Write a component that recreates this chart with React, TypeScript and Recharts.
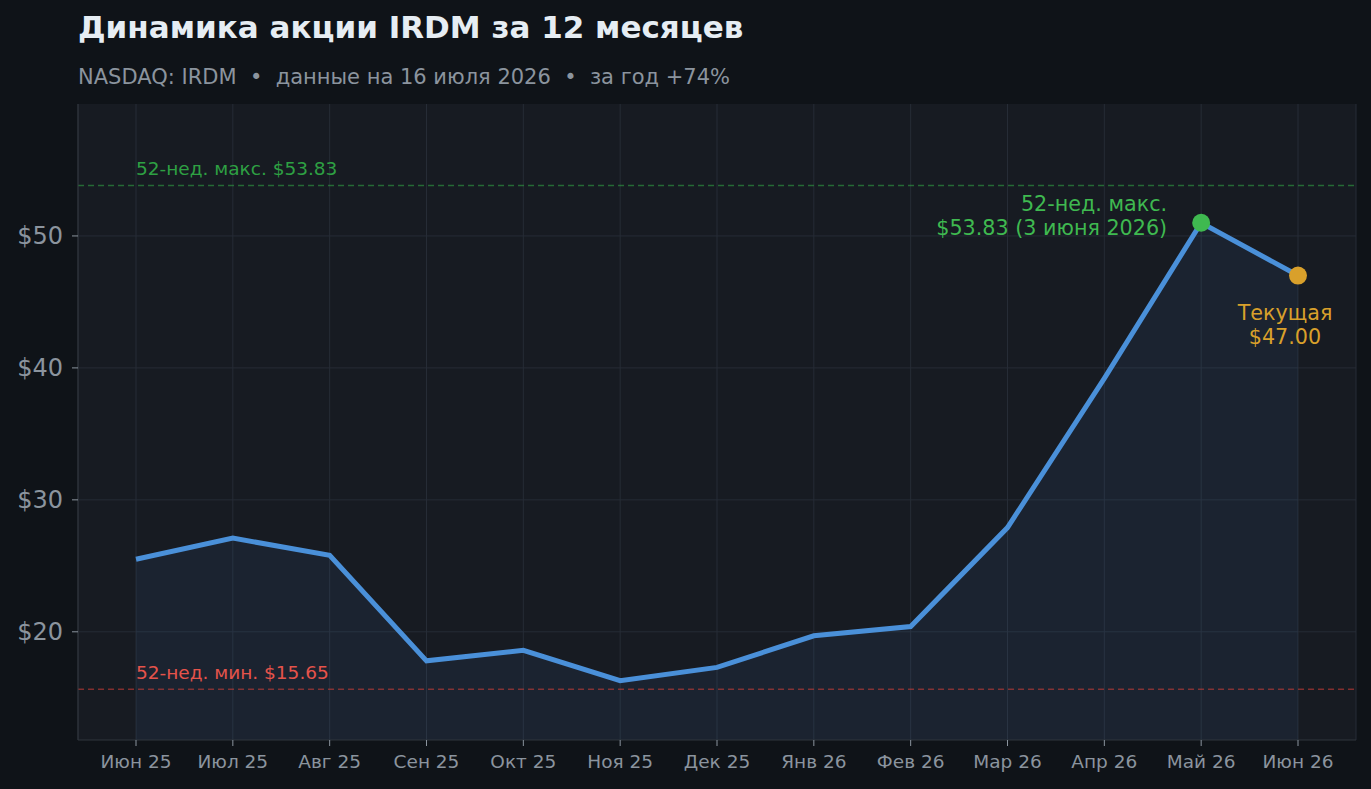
import { ComposedChart, Area, XAxis, YAxis, CartesianGrid, ReferenceLine } from 'recharts';

const months = ['Июн 25', 'Июл 25', 'Авг 25', 'Сен 25', 'Окт 25', 'Ноя 25', 'Дек 25', 'Янв 26', 'Фев 26', 'Мар 26', 'Апр 26', 'Май 26', 'Июн 26'];
const prices = [25.5, 27.1, 25.8, 17.8, 18.6, 16.3, 17.3, 19.7, 20.4, 27.9, 39.2, 51.0, 47.0];
const yTicks = [20, 30, 40, 50];
const high52 = 53.83;
const low52 = 15.65;
const peakIndex = 11;
const lastIndex = 12;

const data = months.map((m, i) => ({ month: m, price: prices[i] }));

const FONT = '"DejaVu Sans", sans-serif';
const GREEN = '#3fb950';
const ORANGE = '#d9a02b';
const BLUE = '#4a90d9';

const renderDot = (props: any) => {
    const { cx, cy, index } = props;
    if (index === peakIndex) {
        return (
            <g key={`dot-${index}`}>
                <circle cx={cx} cy={cy} r={9} fill={GREEN} />
                <text x={cx - 34} y={cy - 12} textAnchor="end" fill={GREEN} fontSize={20.7} fontFamily={FONT}>52-нед. макс.</text>
                <text x={cx - 34} y={cy + 12} textAnchor="end" fill={GREEN} fontSize={20.7} fontFamily={FONT}>$53.83 (3 июня 2026)</text>
            </g>
        );
    }
    if (index === lastIndex) {
        return (
            <g key={`dot-${index}`}>
                <circle cx={cx} cy={cy} r={9} fill={ORANGE} />
                <text x={cx - 13} y={cy + 44} textAnchor="middle" fill={ORANGE} fontSize={20.7} fontFamily={FONT}>Текущая</text>
                <text x={cx - 13} y={cy + 68} textAnchor="middle" fill={ORANGE} fontSize={20.7} fontFamily={FONT}>$47.00</text>
            </g>
        );
    }
    return <g key={`dot-${index}`} />;
};

const lineLabel = (text: string, color: string) => (props: any) => {
    const { viewBox } = props;
    return (
        <text x={viewBox.x + 58} y={viewBox.y - 10} fill={color} fontSize={18.5} fontFamily={FONT}>{text}</text>
    );
};

const App = () => {
    return (
        <div style={{ position: 'absolute', left: 0, top: 0, width: 1371, height: 789, background: '#0f1318', fontFamily: FONT }}>
            <div style={{ position: 'absolute', left: 78, top: 12, fontSize: 31, lineHeight: '31px', fontWeight: 'bold', color: '#e6edf3', whiteSpace: 'nowrap' }}>
                Динамика акции IRDM за 12 месяцев
            </div>
            <div style={{ position: 'absolute', left: 78, top: 67, fontSize: 21, lineHeight: '20px', color: '#8b949e', whiteSpace: 'pre' }}>
                {'NASDAQ: IRDM  •  данные на 16 июля 2026  •  за год +74%'}
            </div>
            <div style={{ position: 'absolute', left: 0, top: 0 }}>
                <ComposedChart width={1371} height={789} data={data} margin={{ top: 104, right: 15, bottom: 0, left: 0 }}>
                    <CartesianGrid stroke="#262c36" strokeWidth={1} fill="#171b22" horizontalValues={yTicks} />
                    <XAxis
                        dataKey="month"
                        height={49}
                        padding={{ left: 58, right: 58 }}
                        stroke="#30363d"
                        tick={{ fill: '#8b949e', fontSize: 18.5, fontFamily: FONT }}
                        tickLine={{ stroke: '#8b949e' }}
                        tickSize={6}
                        tickMargin={9}
                        interval={0}
                    />
                    <YAxis
                        width={78}
                        domain={[11.8, 60]}
                        ticks={yTicks}
                        allowDataOverflow
                        stroke="#30363d"
                        tick={{ fill: '#8b949e', fontSize: 24, fontFamily: FONT }}
                        tickLine={{ stroke: '#8b949e' }}
                        tickSize={6}
                        tickMargin={9}
                        tickFormatter={(v: number) => `$${v}`}
                    />
                    <ReferenceLine y={high52} stroke="#2ea043" strokeOpacity={0.6} strokeDasharray="6 4" strokeWidth={1.5} label={lineLabel('52-нед. макс. $53.83', '#2ea043')} />
                    <ReferenceLine y={low52} stroke="#c93c37" strokeOpacity={0.6} strokeDasharray="6 4" strokeWidth={1.5} label={lineLabel('52-нед. мин. $15.65', '#e5534b')} />
                    <Area
                        type="linear"
                        dataKey="price"
                        stroke={BLUE}
                        strokeWidth={5}
                        fill={BLUE}
                        fillOpacity={0.08}
                        dot={renderDot}
                        activeDot={false}
                        isAnimationActive={false}
                    />
                </ComposedChart>
            </div>
        </div>
    );
};

export default App;
